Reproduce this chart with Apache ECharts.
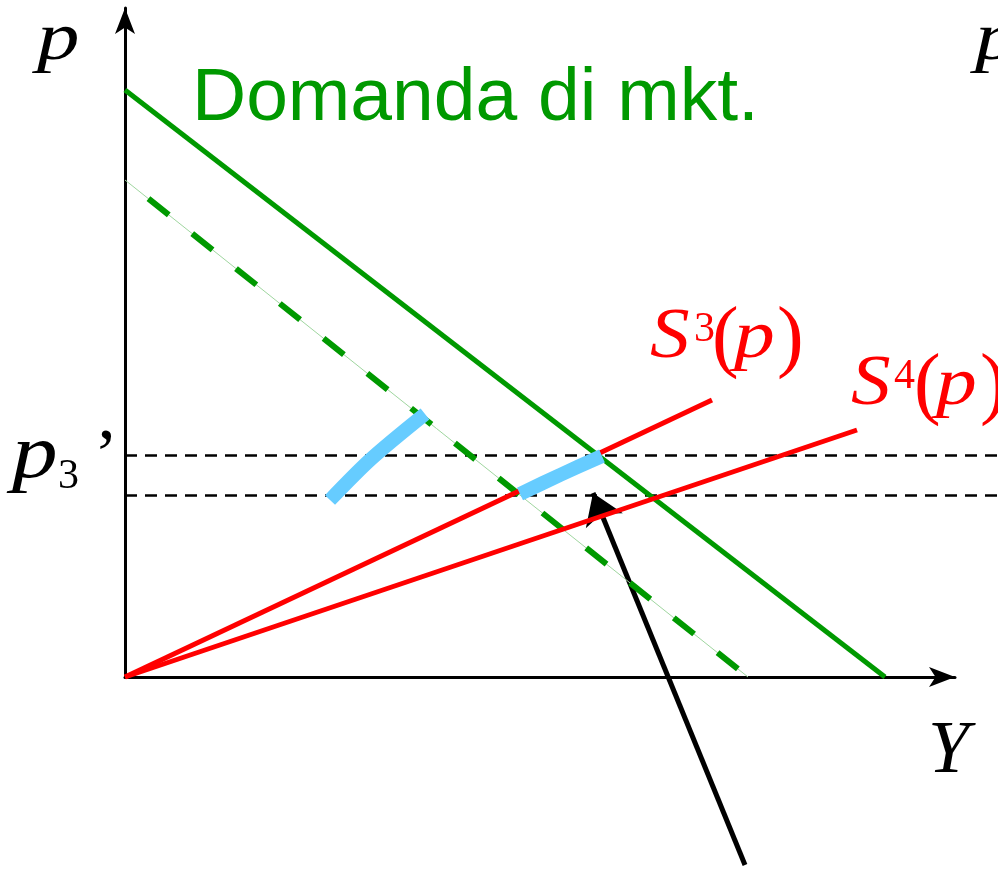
<!DOCTYPE html>
<html>
<head>
<meta charset="utf-8">
<script src="https://cdn.jsdelivr.net/npm/echarts@6/dist/echarts.min.js"></script>
<style>
  html, body { margin: 0; padding: 0; background: #fff; }
  #chart { width: 998px; height: 870px; }
</style>
</head>
<body>
<div id="chart"></div>
<script>
// coordinates: x = quantity Y, y = price p (origin at the axes corner)
var demandX = [0, 760];
var demandY = [587, 0];
var demand2X = [0, 623];
var demand2Y = [497, 0];
var s3X = [0, 587];
var s3Y = [0, 277];
var s4X = [0, 732];
var s4Y = [0, 247];
var priceLevels = [222, 182];   // p3' and the lower one
var priceLineEnd = 873;
var blue1X = [205, 246, 300];
var blue1Y = [177, 218, 263];
var blue2X = [395, 435, 477];
var blue2Y = [183, 202, 221];
var arrowFrom = [620, -188];
var arrowTo = [468, 184];

function pairs(xs, ys) {
    return xs.map(function (x, i) { return [x, ys[i]]; });
}

var green = '#009900';
var red = '#ff0000';

var chart = echarts.init(document.getElementById('chart'));

var series = [];

series.push({
    type: 'lines', coordinateSystem: 'cartesian2d', clip: false, symbol: 'none',
    data: priceLevels.map(function (p) { return { coords: [[0, p], [priceLineEnd, p]] }; }),
    lineStyle: { color: '#000', width: 2.5, type: [12, 8], opacity: 1 }
});

series.push({
    type: 'line', clip: false, symbol: 'none',
    data: pairs(demand2X, demand2Y),
    lineStyle: { color: '#9fd69f', width: 1 }
});
series.push({
    type: 'line', clip: false, symbol: 'none',
    data: pairs(demand2X, demand2Y),
    lineStyle: { color: green, width: 6, type: [26, 30], dashOffset: 26 }
});
series.push({
    type: 'line', clip: false, symbol: 'none',
    data: pairs(demandX, demandY),
    lineStyle: { color: green, width: 5 }
});
series.push({
    type: 'line', clip: false, symbol: 'none',
    data: pairs(s3X, s3Y),
    lineStyle: { color: red, width: 5 }
});
series.push({
    type: 'line', clip: false, symbol: 'none',
    data: pairs(s4X, s4Y),
    lineStyle: { color: red, width: 5 }
});
series.push({
    type: 'line', clip: false, symbol: 'none', smooth: 0.3,
    data: pairs(blue1X, blue1Y),
    lineStyle: { color: '#66ccff', width: 14 }
});
series.push({
    type: 'line', clip: false, symbol: 'none', smooth: 0.3,
    data: pairs(blue2X, blue2Y),
    lineStyle: { color: '#66ccff', width: 14 }
});
series.push({
    type: 'lines', coordinateSystem: 'cartesian2d', clip: false,
    symbol: ['none', 'arrow'], symbolSize: [18, 30],
    data: [{ coords: [arrowFrom, arrowTo] }],
    lineStyle: { color: '#000', width: 5, opacity: 1 }
});

function txt(x, y, text, font, color, sx) {
    return {
        type: 'text', x: x, y: y, scaleX: sx || 1, silent: true,
        style: { text: text, font: font, fill: color || '#000', align: 'left', verticalAlign: 'middle' }
    };
}

var serifI = function (s) { return 'italic ' + s + 'px "Liberation Serif"'; };
var serif = function (s) { return s + 'px "Liberation Serif"'; };

var option = {
    animation: false,
    backgroundColor: '#fff',
    grid: { left: 125, top: 8, width: 830, height: 669 },
    xAxis: {
        type: 'value', min: 0, max: 830,
        axisLine: { show: true, lineStyle: { color: '#000', width: 3 }, symbol: ['none', 'arrow'], symbolSize: [15, 26] },
        axisTick: { show: false }, axisLabel: { show: false }, splitLine: { show: false }
    },
    yAxis: {
        type: 'value', min: 0, max: 669,
        axisLine: { show: true, lineStyle: { color: '#000', width: 3 }, symbol: ['none', 'arrow'], symbolSize: [15, 26] },
        axisTick: { show: false }, axisLabel: { show: false }, splitLine: { show: false }
    },
    graphic: [
        txt(37, 41, 'p', serifI(68), '#000', 1.25),
        txt(975, 41, 'p', serifI(68), '#000', 1.25),
        txt(192, 99, 'Domanda di mkt.', '75px "Liberation Sans"', green),
        txt(650, 338, 'S', serifI(72), red, 1.1),
        txt(694, 330, '3', serif(42), red),
        txt(712, 341, '(', serif(80), red),
        txt(734, 339, 'p', serifI(68), red, 1.2),
        txt(777, 341, ')', serif(80), red),
        txt(851, 385, 'S', serifI(72), red, 1.1),
        txt(894, 377, '4', serif(42), red),
        txt(914, 388, '(', serif(80), red),
        txt(936, 386, 'p', serifI(68), red, 1.2),
        txt(980, 388, ')', serif(80), red),
        txt(12, 457, 'p', serifI(76), '#000', 1.2),
        txt(58, 477, '3', serif(42), '#000'),
        txt(94, 459, '\u2019', serif(72)),
        txt(928, 753, 'Y', serifI(74))
    ],
    series: series
};

chart.setOption(option);
</script>
</body>
</html>
